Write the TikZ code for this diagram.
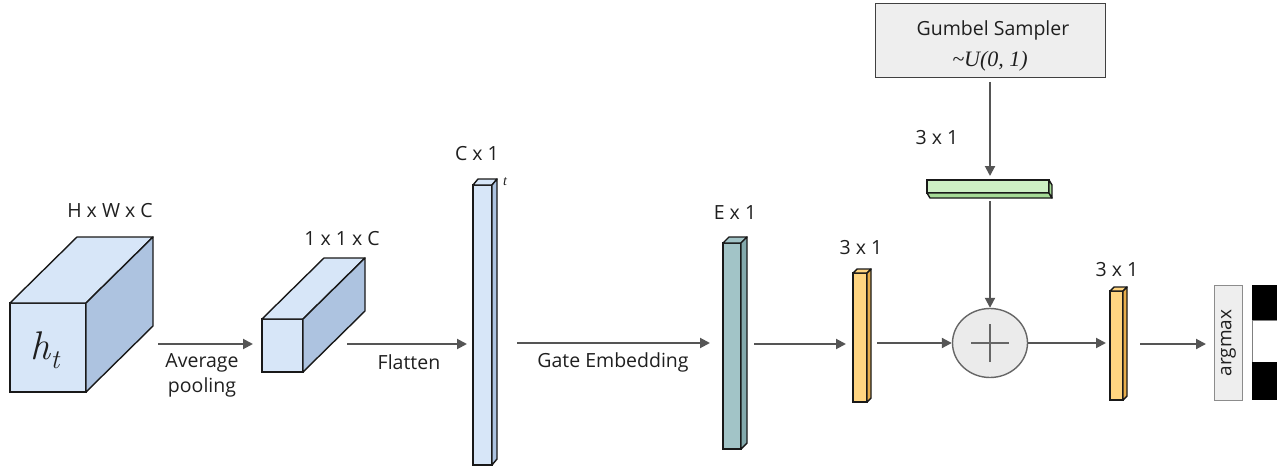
\documentclass[tikz,border=0pt]{standalone}
\usepackage{fontspec}
\setsansfont{Open Sans}
\newfontfamily\serifit{Liberation Serif}
\usetikzlibrary{arrows.meta,shapes.geometric,fit}
\definecolor{cubefront}{HTML}{D7E6F8}
\definecolor{cubeside}{HTML}{ADC3E0}
\definecolor{tealfront}{HTML}{A2C4C7}
\definecolor{tealside}{HTML}{83A9AC}
\definecolor{orafront}{HTML}{FFD581}
\definecolor{oraside}{HTML}{E8AE4C}
\definecolor{grnfront}{HTML}{CDEFC4}
\definecolor{grnside}{HTML}{A5DA96}
\definecolor{arrowgray}{HTML}{555555}
\definecolor{boxgray}{HTML}{EEEEEE}
% name, x1, y1, x2, y2, dx, dy, front, side
\newcommand\mycuboid[9]{%
  \coordinate (#1-nw) at (#2,#3);
  \coordinate (#1-se) at (#4,#5);
  \node[facebox, fill=#8, fit=(#1-nw)(#1-se)] (#1) {};
  \draw[faceline, fill=#8] (#2,#3) -- (#2+#6,#3+#7) -- (#4+#6,#3+#7) -- (#4,#3) -- cycle;
  \draw[faceline, fill=#9] (#4,#3) -- (#4+#6,#3+#7) -- (#4+#6,#5+#7) -- (#4,#5) -- cycle;
}
\begin{document}
\begin{tikzpicture}[x=1pt,y=-1pt,
  every node/.style={font=\sffamily\fontsize{19.5}{23}\selectfont, text=black!88},
  facebox/.style={draw=black!90, line width=1.4pt, inner sep=0pt},
  faceline/.style={draw=black!90, line width=1.4pt, line join=round},
  flow/.style={draw=arrowgray, line width=2pt, -{Triangle[length=10pt,width=10pt]}},
  lab/.style={anchor=center},
  graybox/.style={draw=black!75, fill=boxgray, line width=1.3pt, inner sep=0pt}]
\useasboundingbox (0,0) rectangle (1277,468);

% big cube
\mycuboid{cube}{10}{303}{86}{392}{67}{-66}{cubefront}{cubeside}
\node[font=\rmfamily\itshape\fontsize{40}{44}\selectfont, inner sep=0pt] (ht) at (45,350) {h\raisebox{-0.22em}{\fontsize{27}{30}\selectfont t}};
\node[lab] (lcube) at (110,211) {H x W x C};

% small cube
\mycuboid{small}{262}{319}{303}{372}{62}{-61}{cubefront}{cubeside}
\node[lab] (lsmall) at (342,239) {1 x 1 x C};

% tall bar
\mycuboid{tall}{473}{185}{492}{465}{5}{-6}{cubefront}{cubeside}
\node[lab] (ltall) at (477,154) {C x 1};
\node[font=\serifit\itshape\fontsize{14}{15}\selectfont, inner sep=0pt] (tsmall) at (505,182) {t};

% teal bar
\mycuboid{emb}{723}{243}{741}{449}{6}{-6}{tealfront}{tealside}
\node[lab] (lemb) at (735,213) {E x 1};

% orange bar 1
\mycuboid{or1}{853}{273}{867}{402}{4}{-4}{orafront}{oraside}
\node[lab] (lor1) at (861,248) {3 x 1};

% orange bar 2
\mycuboid{or2}{1110}{291}{1123}{400}{4}{-4}{orafront}{oraside}
\node[lab] (lor2) at (1117,270) {3 x 1};

% gumbel sampler
\node[graybox, minimum width=230pt, minimum height=74pt, anchor=north west] (gum) at (875,3) {};
\node (gumt) at (993,30) {Gumbel Sampler};
\node[font=\serifit\itshape\fontsize{22}{24}\selectfont] (gumu) at (990,61) {\textasciitilde U(0, 1)};

% green bar
\coordinate (grn-nw) at (927,180);
\coordinate (grn-se) at (1049,193);
\node[facebox, fill=grnfront, fit=(grn-nw)(grn-se)] (grn) {};
\draw[faceline, fill=grnside] (927,193) -- (1049,193) -- (1052,198) -- (930,198) -- cycle;
\draw[faceline, fill=grnside] (1049,180) -- (1052,185) -- (1052,198) -- (1049,193) -- cycle;
\node[lab] (lgrn) at (937,138) {3 x 1};

% adder
\node[ellipse, draw=black!60, fill=black!8, line width=1.4pt, minimum width=75pt, minimum height=69pt, inner sep=0pt] (add) at (990,343) {};
\draw[black!60, line width=1.4pt] ([xshift=-19pt]add.center) -- ([xshift=19pt]add.center);
\draw[black!60, line width=1.4pt] ([yshift=-19pt]add.center) -- ([yshift=19pt]add.center);

% argmax
\node[draw=black!45, fill=boxgray, line width=1pt, minimum width=28pt, minimum height=115pt, inner sep=0pt, anchor=north west] (argm) at (1214,285) {};
\node[rotate=90, font=\sffamily\fontsize{19}{22}\selectfont] (argt) at (argm.center) {argmax};

% output one-hot
\node[fill=black, minimum width=26pt, minimum height=35pt, inner sep=0pt, anchor=north west] (o1) at (1252,285) {};
\node[draw=black!50, fill=white, line width=0.8pt, minimum width=26pt, minimum height=42pt, inner sep=0pt, anchor=north west] (o2) at (1252,320) {};
\node[fill=black, minimum width=26pt, minimum height=38pt, inner sep=0pt, anchor=north west] (o3) at (1252,362) {};

% arrows
\coordinate (a1s) at (158,344); \coordinate (a1e) at (253,344);
\draw[flow] (a1s) -- (a1e);
\node (lavg) at (202,363) {Average};
\node (lpool) at (202,387) {pooling};

\coordinate (a2s) at (347,344); \coordinate (a2e) at (467,344);
\draw[flow] (a2s) -- (a2e);
\node (lflat) at (409,362) {Flatten};

\coordinate (a3s) at (517,343); \coordinate (a3e) at (710,343);
\draw[flow] (a3s) -- (a3e);
\node (lgate) at (613,362) {Gate Embedding};

\coordinate (a4s) at (754,344); \coordinate (a4e) at (846,344);
\draw[flow] (a4s) -- (a4e);

\coordinate (a5s) at (877,343);
\draw[flow] (a5s) -- (add.west);

\coordinate (g1s) at (990,82); \coordinate (g1e) at (990,176);
\draw[flow] (g1s) -- (g1e);
\coordinate (g2s) at (990,201);
\draw[flow] (g2s) -- (add.north);

\coordinate (a6e) at (1106,343);
\draw[flow] (add.east) -- (a6e);

\coordinate (a7s) at (1140,344); \coordinate (a7e) at (1206,344);
\draw[flow] (a7s) -- (a7e);
\end{tikzpicture}
\end{document}
